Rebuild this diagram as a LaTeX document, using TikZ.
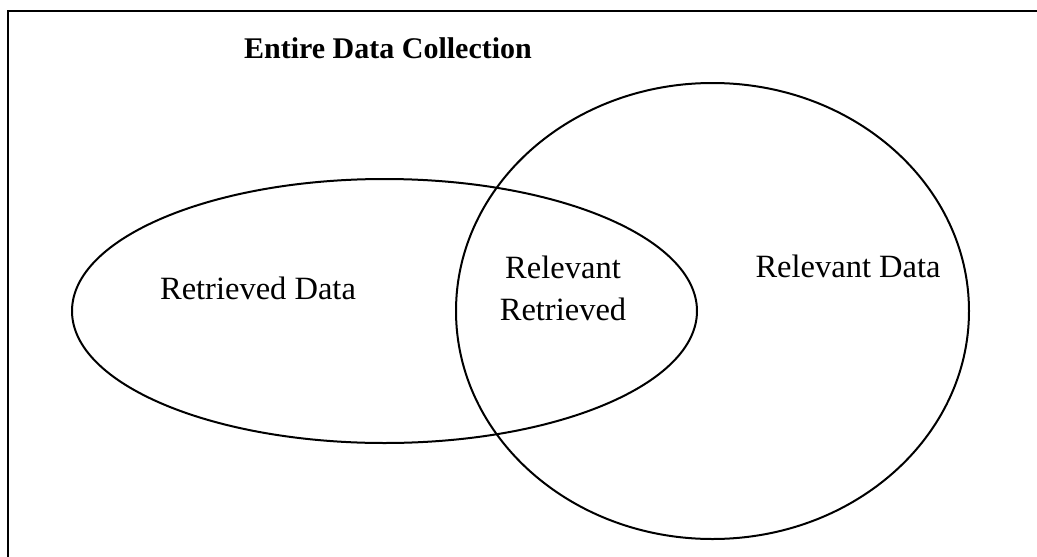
\documentclass[tikz,border=0pt]{standalone}
\usepackage{fontspec}
\setmainfont{Liberation Serif}
\begin{document}
\begin{tikzpicture}[x=1pt,y=-1pt,
  shapeline/.style={line width=2pt, black},
  lbl/.style={font=\fontsize{32.5}{38}\selectfont, align=center, inner sep=0pt},
  ttl/.style={font=\fontsize{30}{36}\selectfont\bfseries, inner sep=0pt}]
\useasboundingbox (0,0) rectangle (1037,557);
\coordinate (fbl) at (8,557);
\coordinate (ftl) at (8,11);
\coordinate (ftr) at (1037,11);
\draw[line width=2.5pt] (fbl) -- (ftl) -- (ftr);
\draw[shapeline] (384.5,311) ellipse [x radius=312.5, y radius=132];
\draw[shapeline] (712.5,311) ellipse [x radius=256.5, y radius=228];
\node[ttl] (title) at (388,48) {Entire Data Collection};
\node[lbl] (ret) at (258,288) {Retrieved Data};
\node[lbl] (relret) at (563,288) {Relevant\\[4pt]Retrieved};
\node[lbl] (rel) at (848,266) {Relevant Data};
\end{tikzpicture}
\end{document}
